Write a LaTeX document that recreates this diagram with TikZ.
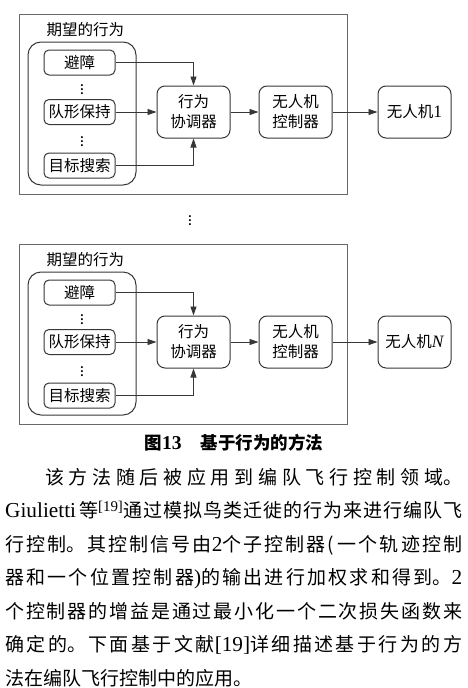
\documentclass[tikz,border=0pt]{standalone}
\usepackage{fontspec}
\setmainfont{Noto Sans CJK SC}
\newfontfamily\lat{Liberation Serif}[Scale=1.12]
\usetikzlibrary{arrows.meta,positioning}
\definecolor{line}{RGB}{55,55,55}
\definecolor{frame}{RGB}{105,105,105}
\newcommand{\bodyfont}{\fontsize{19}{33.5}\selectfont}

\begin{document}
\begin{tikzpicture}[x=1pt,y=-1pt,>={Triangle[length=9pt,width=6pt]},
  every node/.style={font=\fontsize{15.5}{20}\selectfont},
  beh/.style={draw=line,line width=1pt,rounded corners=5pt,minimum width=71pt,minimum height=25pt,inner sep=0pt},
  blk/.style={draw=line,line width=1pt,rounded corners=8pt,minimum width=73pt,minimum height=52pt,inner sep=0pt,align=center},
  arr/.style={->,draw=line,line width=0.9pt}]
\useasboundingbox (0,0) rectangle (467,688);
\foreach \i/\dy/\uav in {1/0/{\lat 1},2/230/{\lat\itshape N}}{
  \begin{scope}[yshift=-\dy pt]
  \draw[frame,line width=1pt] (19,14) rectangle (347,194);
  \node[anchor=west] (want\i) at (43,30) {期望的行为};
  \draw[line,line width=1pt,rounded corners=13pt] (28,42) rectangle (136,185);
  \node[beh] (b1\i) at (79.5,62.5) {避障};
  \node[beh] (b2\i) at (79.5,112) {队形保持};
  \node[beh] (b3\i) at (79.5,165.5) {目标搜索};
  \node[inner sep=0pt] (d1\i) at (82,87) {$\vdots$};
  \node[inner sep=0pt] (d2\i) at (82,139) {$\vdots$};
  \node[blk] (co\i) at (193.5,112) {行为\\协调器};
  \node[blk,right=28pt of co\i] (ct\i) {无人机\\控制器};
  \node[blk,right=45pt of ct\i] (u\i) {无人机\uav};
  \draw[arr] (b1\i) -| (co\i);
  \draw[arr] (b2\i) -- (co\i);
  \draw[arr] (b3\i) -| (co\i);
  \draw[arr] (co\i) -- (ct\i);
  \draw[arr] (ct\i) -- (u\i);
  \end{scope}
}
\node[inner sep=0pt] (gap) at (190,218) {$\vdots$};
\node[font=\fontsize{17.5}{20}\selectfont\bfseries] (cap) at (234,443) {图{\lat 13}\hspace{1.1em}基于行为的方法};
\node[anchor=base west,text width=457pt,align=justify,inner sep=0pt,font=\bodyfont] (para) at (5,484)
  {\XeTeXlinebreaklocale "zh"\XeTeXlinebreakskip=0pt plus 1fil minus 0.4pt\parindent=0pt\parfillskip=0pt
  \hspace*{40pt}该方法随后被应用到编队飞行控制领域。\par
  {\lat Giulietti}\hspace{3pt}等\textsuperscript{\lat[19]}通过模拟鸟类迁徙的行为来进行编队飞\par
  行控制。其控制信号由{\lat 2}个子控制器({\lat\,}一个轨迹控制\par
  器和一个位置控制器{\lat )}的输出进行加权求和得到。{\lat 2}\par
  个控制器的增益是通过最小化一个二次损失函数来\par
  确定的。下面基于文献{\lat[19]}详细描述基于行为的方\par
  法在编队飞行控制中的应用。\hspace*{\fill}\par};
\end{tikzpicture}
\end{document}
